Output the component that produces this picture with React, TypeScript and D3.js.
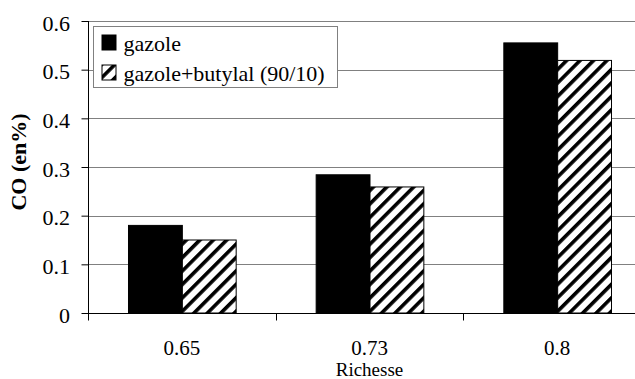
import * as d3 from "d3";
import { useEffect, useRef } from "react";

const categories = ["0.65", "0.73", "0.8"];
const seriesNames = ["gazole", "gazole+butylal (90/10)"];
const gazole = [0.18, 0.284, 0.555];
const gazoleButylal = [0.15, 0.259, 0.519];
const yTicks = [0, 0.1, 0.2, 0.3, 0.4, 0.5, 0.6];

export default function App() {
  const ref = useRef<SVGSVGElement | null>(null);
  useEffect(() => {
    if (!ref.current) return;
    const svg = d3.select(ref.current);
    svg.selectAll("*").remove();
    const w = 635;
    const h = 379;
    const left = 88;
    const right = 651;
    const top = 21;
    const bottom = 313;
    const font = '"Liberation Serif", "Times New Roman", "DejaVu Serif", serif';

    const defs = svg.append("defs");
    const pat = defs
      .append("pattern")
      .attr("id", "hatch")
      .attr("patternUnits", "userSpaceOnUse")
      .attr("width", 9.5)
      .attr("height", 9.5)
      .attr("patternTransform", "rotate(45)");
    pat.append("rect").attr("width", 9.5).attr("height", 9.5).attr("fill", "#fff");
    pat.append("rect").attr("x", 0).attr("width", 3.6).attr("height", 9.5).attr("fill", "#000");

    svg.append("rect").attr("width", w).attr("height", h).attr("fill", "#fff");

    const x0 = d3.scaleBand().domain(categories).range([left, right]).paddingInner(0).paddingOuter(0);
    const y = d3.scaleLinear().domain([0, 0.6]).range([bottom, top]);
    const groupPad = 40 / 187.7;
    const x1 = d3
      .scaleBand()
      .domain(seriesNames)
      .range([0, x0.bandwidth()])
      .paddingOuter(groupPad / (1 - 2 * groupPad) * 2)
      .paddingInner(0);

    // gridlines
    svg
      .append("g")
      .selectAll("line")
      .data(yTicks.filter((t) => t > 0))
      .enter()
      .append("line")
      .attr("x1", left)
      .attr("x2", w)
      .attr("y1", (d) => Math.round(y(d)) + 0.5)
      .attr("y2", (d) => Math.round(y(d)) + 0.5)
      .attr("stroke", "#808080")
      .attr("stroke-width", 1);

    const rows = categories.map((c, i) => ({ c, vals: [gazole[i], gazoleButylal[i]] }));
    const g = svg
      .append("g")
      .selectAll("g")
      .data(rows)
      .enter()
      .append("g")
      .attr("transform", (d) => `translate(${x0(d.c)},0)`);
    g.selectAll("rect")
      .data((d) => d.vals.map((v, k) => ({ s: seriesNames[k], v, k })))
      .enter()
      .append("rect")
      .attr("x", (d) => (x1(d.s) ?? 0) + 0.5)
      .attr("y", (d) => y(d.v))
      .attr("width", x1.bandwidth())
      .attr("height", (d) => bottom - y(d.v))
      .attr("fill", (d) => (d.k === 0 ? "#000" : "url(#hatch)"))
      .attr("stroke", "#000")
      .attr("stroke-width", 1);

    // y axis
    const yAxis = svg
      .append("g")
      .attr("transform", `translate(${left + 0.5},0)`)
      .call(d3.axisLeft(y).tickValues(yTicks).tickSize(7).tickSizeOuter(0).tickFormat((d) => String(d)));
    yAxis.attr("font-family", null);
    yAxis.select(".domain").attr("stroke", "#000").attr("d", `M0,${top}V${bottom}`);
    yAxis.selectAll("line").attr("stroke", "#000");
    yAxis
      .selectAll("text")
      .style("font-family", font)
      .style("font-size", "22px")
      .attr("fill", "#000")
      .attr("x", -18.5)
      .attr("dy", "0.42em");

    // x axis
    const xAxis = svg.append("g").attr("transform", `translate(0,${bottom + 0.5})`);
    xAxis
      .append("line")
      .attr("x1", left)
      .attr("x2", w)
      .attr("stroke", "#000");
    xAxis
      .selectAll("line.tick")
      .data(x0.domain().map((c) => x0(c) ?? 0).concat([right]))
      .enter()
      .append("line")
      .attr("class", "tick")
      .attr("x1", (d) => Math.round(d) + 0.5)
      .attr("x2", (d) => Math.round(d) + 0.5)
      .attr("y1", 0)
      .attr("y2", 7)
      .attr("stroke", "#000");
    xAxis
      .selectAll("text")
      .data(categories)
      .enter()
      .append("text")
      .attr("x", (d) => (x0(d) ?? 0) + x0.bandwidth() / 2)
      .attr("y", 41)
      .attr("text-anchor", "middle")
      .style("font-family", font)
      .style("font-size", "21px")
      .text((d) => d);

    svg
      .append("text")
      .attr("x", (left + right) / 2)
      .attr("y", 376)
      .attr("text-anchor", "middle")
      .style("font-family", font)
      .style("font-size", "19px")
      .text("Richesse");

    svg
      .append("text")
      .attr("transform", `translate(26,162) rotate(-90)`)
      .attr("text-anchor", "middle")
      .style("font-family", font)
      .style("font-size", "22px")
      .style("font-weight", "bold")
      .text("CO (en%)");

    // legend
    const leg = svg.append("g").attr("transform", "translate(93.5,26.5)");
    leg
      .append("rect")
      .attr("width", 244)
      .attr("height", 61)
      .attr("fill", "#fff")
      .attr("stroke", "#808080");
    const item = leg
      .selectAll("g")
      .data(seriesNames)
      .enter()
      .append("g")
      .attr("transform", (_, i) => `translate(0,${i * 30})`);
    item
      .append("rect")
      .attr("x", 8.5)
      .attr("y", 8.5)
      .attr("width", 14)
      .attr("height", 15)
      .attr("fill", (_, i) => (i === 0 ? "#000" : "url(#hatch)"))
      .attr("stroke", "#000");
    item
      .append("text")
      .attr("x", 30)
      .attr("y", 24)
      .style("font-family", font)
      .style("font-size", "22px")
      .text((d) => d);
  }, []);
  return (
    <svg
      ref={ref}
      width={635}
      height={379}
      viewBox="0 0 635 379"
      style={{ position: "absolute", left: 0, top: 0 }}
    />
  );
}
